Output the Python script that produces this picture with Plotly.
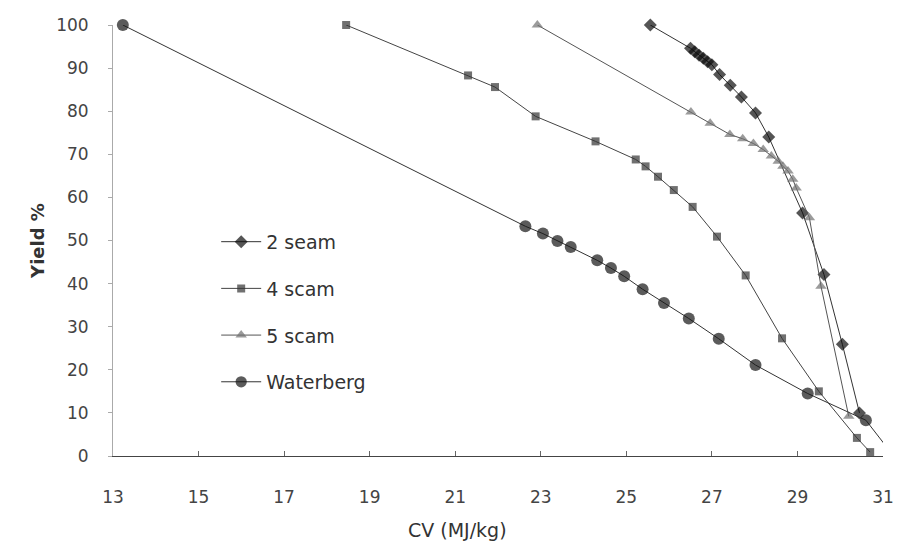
import plotly.graph_objects as go

# Calorific value (MJ/kg) versus cumulative yield (%) for each coal
seam2_cv = [25.56, 26.50, 26.60, 26.70, 26.80, 26.90, 27.00, 27.18, 27.43, 27.69, 28.02, 28.33, 29.12, 29.62, 30.05, 30.45]
seam2_yield = [100.0, 94.6, 93.8, 93.0, 92.3, 91.5, 90.8, 88.5, 86.0, 83.3, 79.6, 74.0, 56.4, 42.1, 25.9, 10.0]

seam4_cv = [18.45, 21.30, 21.93, 22.88, 24.28, 25.22, 25.45, 25.74, 26.11, 26.55, 27.12, 27.79, 28.64, 29.50, 30.39, 30.70]
seam4_yield = [100.0, 88.3, 85.6, 78.8, 73.0, 68.8, 67.2, 64.8, 61.7, 57.8, 50.9, 41.9, 27.3, 15.0, 4.2, 0.9]

seam5_cv = [22.92, 26.51, 26.96, 27.42, 27.72, 27.97, 28.20, 28.39, 28.55, 28.66, 28.78, 28.89, 28.97, 29.28, 29.55, 30.20]
seam5_yield = [100.0, 79.8, 77.2, 74.6, 73.6, 72.5, 71.1, 69.6, 68.4, 67.2, 66.1, 64.2, 62.2, 55.3, 39.4, 9.2]

waterberg_cv = [13.23, 22.64, 23.05, 23.39, 23.70, 24.32, 24.64, 24.95, 25.38, 25.88, 26.46, 27.16, 28.02, 29.24, 30.60, 31.10]
waterberg_yield = [100.0, 53.3, 51.6, 49.9, 48.5, 45.4, 43.6, 41.7, 38.7, 35.5, 31.9, 27.2, 21.1, 14.5, 8.3, 1.9]

x_ticks = [13, 15, 17, 19, 21, 23, 25, 27, 29, 31]
y_ticks = [0, 10, 20, 30, 40, 50, 60, 70, 80, 90, 100]

FONT = "DejaVu Sans, Arial, sans-serif"

series = [
    ("2 seam", seam2_cv, seam2_yield, "diamond", 10, "#0d0d0d", "#333333"),
    ("4 scam", seam4_cv, seam4_yield, "square", 8, "#333333", "#444444"),
    ("5 scam", seam5_cv, seam5_yield, "triangle-up", 10, "#707070", "#555555"),
    ("Waterberg", waterberg_cv, waterberg_yield, "circle", 12, "#151515", "#333333"),
]

fig = go.Figure()
for i, (name, xs, ys, symbol, size, mcolor, lcolor) in enumerate(series):
    sizes = [size] * len(xs)
    if name == "Waterberg":
        sizes[-1] = 0  # line runs on to the axis edge without a marker
    fig.add_trace(go.Scatter(
        x=xs, y=ys, name=name, mode="lines+markers",
        line=dict(color=lcolor, width=1),
        marker=dict(symbol=symbol, size=sizes, color=mcolor, line=dict(width=0)),
        cliponaxis=False,
        legendgroup=f"g{i}",
    ))

fig.update_layout(
    width=906, height=544,
    margin=dict(l=113, r=13, t=25, b=88),
    paper_bgcolor="white", plot_bgcolor="white",
    font=dict(family=FONT, size=17, color="#444444"),
    showlegend=True,
    legend=dict(
        x=0.134, y=0.541, xanchor="left", yanchor="top",
        bgcolor="rgba(0,0,0,0)", tracegroupgap=19,
        font=dict(family=FONT, size=19, color="#333333"),
        itemwidth=40,
    ),
    xaxis=dict(
        range=[13, 31], tickvals=x_ticks, ticktext=[str(v) for v in x_ticks],
        showgrid=False, zeroline=False,
        showline=True, linecolor="#444444", linewidth=1,
        ticks="inside", ticklen=5, tickcolor="#666666",
        ticklabelstandoff=26,
        tickfont=dict(family=FONT, size=17, color="#444444"),
    ),
    yaxis=dict(
        range=[0, 100], tickvals=y_ticks, ticktext=[str(v) for v in y_ticks],
        showgrid=False, zeroline=False,
        showline=True, linecolor="#aaaaaa", linewidth=1,
        ticks="outside", ticklen=4, tickcolor="#aaaaaa",
        ticklabelstandoff=16,
        tickfont=dict(family=FONT, size=17, color="#444444"),
        title=dict(text="<b>Yield %</b>", font=dict(family=FONT, size=18, color="#333333"), standoff=6),
    ),
    annotations=[dict(
        text="CV (MJ/kg)", xref="paper", yref="paper", x=0.447, y=0,
        xanchor="center", yanchor="middle", yshift=-74, showarrow=False,
        font=dict(family=FONT, size=19, color="#333333"),
    )],
)

fig.write_html("out.html")
